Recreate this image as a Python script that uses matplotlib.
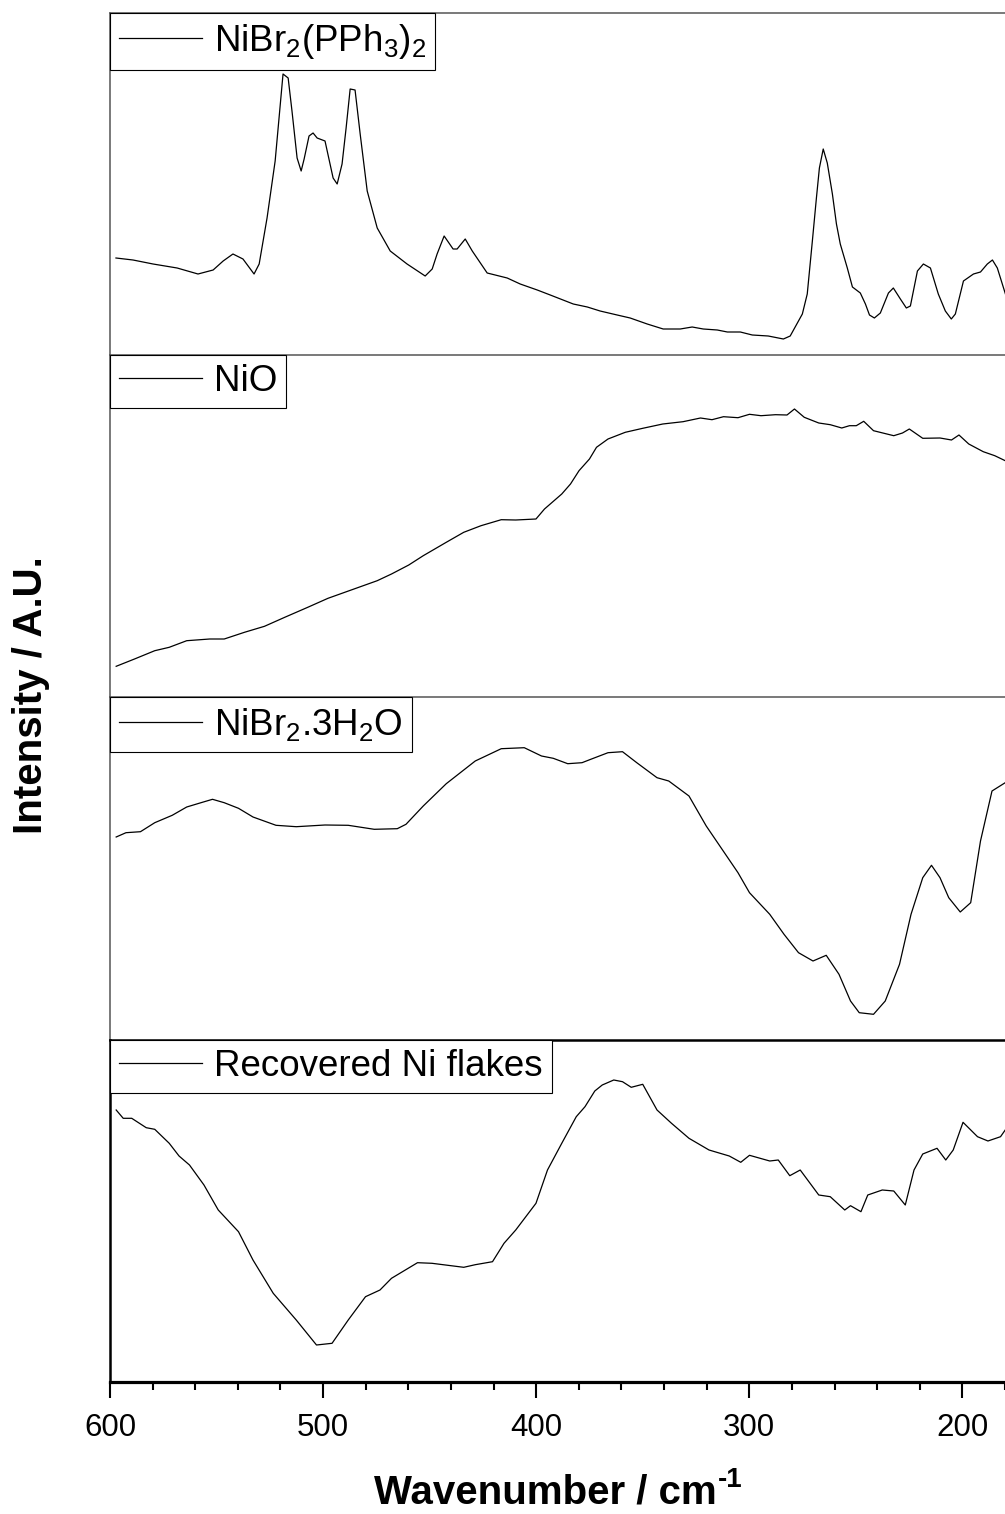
import matplotlib
matplotlib.use("Agg")
import matplotlib.pyplot as plt
from matplotlib.ticker import MultipleLocator

plt.rcParams['font.family'] = ['Liberation Sans', 'DejaVu Sans']
plt.rcParams['mathtext.fontset'] = 'custom'
plt.rcParams['mathtext.rm'] = 'Liberation Sans'
plt.rcParams['mathtext.it'] = 'Liberation Sans:italic'
plt.rcParams['mathtext.bf'] = 'Liberation Sans:bold'

# ---------------- data (wavenumber in cm-1, intensity in arbitrary units) -------------
labels = [r'NiBr$_2$(PPh$_3$)$_2$', 'NiO', r'NiBr$_2$.3H$_2$O', 'Recovered Ni flakes']

wn_pph3 = [597.2, 589.2, 579.8, 568.5, 558.7, 551.6, 546.9, 542.3, 537.6, 532.4, 530.0, 526.3,
           522.5, 518.8, 516.4, 514.6, 512.2, 510.3, 508.9, 506.6, 504.7, 502.8, 499.1, 495.3,
           493.4, 491.1, 489.2, 487.3, 485.0, 482.6, 479.3, 474.6, 468.5, 460.6, 452.1, 448.8,
           446.5, 443.2, 439.0, 437.1, 433.3, 430.0, 423.0, 413.6, 407.5, 399.5, 393.4, 382.6,
           376.0, 370.0, 362.0, 355.9, 347.9, 340.4, 332.4, 326.8, 321.6, 315.0, 310.3, 304.2,
           298.6, 291.1, 284.0, 280.8, 275.1, 272.8, 270.4, 268.5, 267.1, 265.3, 263.4, 261.0,
           259.1, 257.3, 254.0, 251.6, 247.9, 245.5, 243.6, 241.3, 238.5, 234.7, 232.4, 229.1,
           226.3, 224.4, 221.1, 218.3, 215.0, 211.3, 208.0, 205.2, 203.3, 199.5, 194.8, 191.5,
           188.3, 185.9, 183.6, 179.8]
int_pph3 = [97, 95, 91, 87, 81, 85, 94, 101, 96, 81, 91, 137,
            194, 281, 277, 244, 197, 184, 196, 219, 222, 217, 214, 177,
            171, 191, 227, 266, 265, 221, 164, 127, 104, 91, 79, 86,
            101, 119, 106, 106, 116, 104, 82, 77, 71, 65, 60, 51,
            48, 44, 40, 37, 31, 26, 26, 28, 26, 25, 23, 23,
            20, 19, 16, 19, 41, 61, 114, 157, 187, 206, 192, 161,
            131, 111, 87, 68, 62, 51, 40, 37, 42, 62, 67, 56,
            47, 49, 84, 91, 87, 61, 44, 36, 41, 74, 81, 83,
            91, 95, 87, 61]

wn_nio = [597.1, 588.5, 579.0, 572.2, 564.0, 553.2, 546.4, 536.9, 527.5, 518.0, 507.2, 497.7,
          485.5, 474.6, 467.9, 459.8, 453.0, 442.2, 434.0, 425.9, 416.4, 409.6, 400.1, 396.1,
          388.0, 383.9, 379.9, 375.0, 371.7, 366.3, 358.2, 350.0, 340.6, 331.1, 322.9, 317.5,
          312.1, 305.3, 299.9, 294.5, 287.7, 282.3, 278.8, 274.2, 267.4, 262.0, 256.6, 253.0,
          249.8, 246.3, 241.7, 232.2, 228.1, 224.9, 218.6, 210.5, 205.1, 201.6, 197.0, 190.2,
          184.8, 179.9]
int_nio = [30.7, 38, 46.3, 49.7, 56.3, 58, 58, 64.7, 70.7, 79.7, 89.7, 98.7,
           108, 116.3, 123, 132, 141.3, 154.7, 164.7, 171.3, 177.3, 177, 178, 188,
           203, 213, 226.3, 238, 249.7, 258, 264.7, 268.7, 273, 275.3, 279, 277.3,
           280.3, 279.3, 282.7, 281.3, 282.3, 282, 288, 279.7, 274, 272.3, 269, 271.3,
           271.3, 275.7, 266.3, 261.3, 264, 268, 258.7, 259, 257, 262, 253, 245.3,
           241.3, 236.3]

wn_hyd = [597.1, 592.5, 585.7, 579.0, 570.8, 564.0, 557.3, 551.9, 546.4, 539.7, 532.9, 522.1,
          512.6, 499.1, 488.2, 476.0, 465.2, 461.1, 453.0, 442.2, 428.6, 416.4, 405.6, 397.5,
          392.0, 385.2, 378.5, 374.4, 366.3, 359.5, 352.8, 343.3, 337.8, 328.3, 320.2, 305.3,
          299.9, 290.4, 283.7, 276.9, 270.1, 263.9, 257.9, 252.5, 248.4, 241.7, 236.2, 229.5,
          224.1, 218.6, 214.5, 210.5, 206.4, 201.0, 196.1, 191.5, 186.1, 179.9]
int_hyd = [203, 207.3, 208.3, 217.3, 224.7, 233, 237.3, 240.7, 237.3, 231.7, 223, 214.7,
           213.3, 215, 214.7, 210.7, 211.3, 215.7, 234, 256.3, 279, 291.3, 292.3, 284,
           281.7, 276.3, 277.3, 280.7, 287.3, 288.3, 277.3, 262.3, 259, 244, 214, 167.3,
           147.3, 125.7, 105.7, 87.3, 79, 84.7, 65.7, 39, 27.3, 25.7, 39, 75.7,
           125.7, 162.3, 174.7, 162.3, 142.3, 128, 137.3, 199, 249, 257.3]

wn_flk = [597.1, 593.8, 589.8, 583.0, 579.0, 572.2, 567.6, 562.7, 555.9, 549.2, 539.7, 532.9,
          523.4, 512.6, 503.1, 495.8, 488.2, 480.1, 473.3, 467.9, 455.7, 448.9, 434.0, 428.6,
          420.5, 415.1, 409.6, 400.1, 394.7, 388.0, 381.2, 377.1, 372.5, 369.0, 363.6, 359.5,
          355.4, 350.0, 343.3, 336.5, 328.3, 318.9, 309.4, 304.0, 299.9, 290.4, 286.4, 281.0,
          276.1, 267.4, 262.0, 255.2, 252.5, 247.6, 244.4, 237.6, 232.2, 226.8, 222.7, 218.6,
          211.9, 207.8, 204.3, 199.7, 192.9, 188.0, 182.1, 179.9]
int_flk = [272, 263.7, 263.7, 254.3, 252.7, 238.7, 226, 217, 197, 172, 150.3, 122,
           88.7, 62, 37, 38.7, 62, 85.3, 92, 103.7, 119.3, 118.7, 114.7, 117.3,
           120.3, 138.7, 152, 178.7, 212, 238.7, 265.3, 275.3, 291, 297, 302, 300.3,
           294.7, 297.7, 272, 258.7, 243.7, 232, 226, 219.7, 226.7, 221, 222, 206.3,
           212, 187, 185.3, 172, 176.3, 170.3, 187, 192, 191, 177, 212, 228,
           233.7, 222, 232, 259.7, 245.3, 241, 245.3, 252]

x_ticks = [600, 500, 400, 300, 200]

series = [(wn_pph3, int_pph3), (wn_nio, int_nio), (wn_hyd, int_hyd), (wn_flk, int_flk)]

# ---------------- layout -------------
W, H = 1005, 1514
fig = plt.figure(figsize=(W / 100, H / 100), dpi=100)
bounds = [13, 355, 697, 1040, 1382]
left = 110 / W
width = 1 - left

axes = []
for i in range(4):
    top_px, bot_px = bounds[i], bounds[i + 1]
    ax = fig.add_axes([left, 1 - bot_px / H, width, (bot_px - top_px) / H])
    axes.append(ax)
    wn, inten = series[i]
    ax.plot(wn, inten, color='black', lw=0.9, label=labels[i])
    ax.set_xlim(600, 180)
    ax.set_ylim(0, bot_px - top_px)
    ax.set_yticks([])
    ax.spines['right'].set_visible(False)
    leg = ax.legend(loc='upper left', bbox_to_anchor=(0, 1), borderaxespad=0,
                    fontsize=26.5, handlelength=2.25, handletextpad=0.32,
                    borderpad=0.25, fancybox=False, framealpha=1, edgecolor='black')
    leg.get_frame().set_linewidth(0.8)
    for ln in leg.get_lines():
        ln.set_linewidth(0.9)
    if i < 3:
        ax.set_xticks([])
        ax.spines['bottom'].set_visible(False)
        for s in ('left', 'top'):
            ax.spines[s].set_linewidth(1.1)
            ax.spines[s].set_color('#555555')
    else:
        for s in ('left', 'top'):
            ax.spines[s].set_linewidth(1.8)
            ax.spines[s].set_color('black')
        ax.spines['bottom'].set_linewidth(2.3)
        ax.set_xticks(x_ticks)
        ax.xaxis.set_minor_locator(MultipleLocator(20))
        ax.tick_params(axis='x', which='major', direction='out', length=11.5, width=1.5,
                       labelsize=22.5, pad=11)
        ax.tick_params(axis='x', which='minor', direction='out', length=6, width=1.5)

# x-axis title with a hyphen superscript, centred under the axes
base_y = 1 - 1504 / H
main = fig.text(0, base_y, 'Wavenumber / cm', fontsize=29, fontweight='bold',
                ha='left', va='baseline')
sup = fig.text(0, base_y, '-1', fontsize=20, fontweight='bold', ha='left', va='baseline')
fig.canvas.draw()
r = fig.canvas.get_renderer()
wm = main.get_window_extent(r).width
ws = sup.get_window_extent(r).width
cx = (110 + W) / 2
x0 = cx - (wm + ws) / 2
main.set_x(x0 / W)
sup.set_x((x0 + wm + 1) / W)
sup.set_y(1 - 1487 / H)

fig.text(31 / W, 1 - 695 / H, 'Intensity / A.U.', rotation=90, fontsize=29,
         fontweight='bold', ha='center', va='center')

fig.savefig('out.png', dpi=100)
